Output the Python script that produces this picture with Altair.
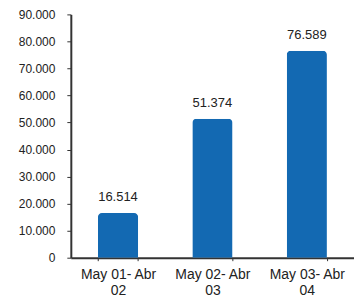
import altair as alt
import pandas as pd

periods = ["May 01- Abr 02", "May 02- Abr 03", "May 03- Abr 04"]
values = [16514, 51374, 76589]
labels = [f"{v:,}".replace(",", ".") for v in values]

df = pd.DataFrame({"period": periods, "value": values, "label": labels})

base = alt.Chart(df).encode(
    x=alt.X("period:N", sort=periods, title=None,
            scale=alt.Scale(paddingInner=0.574, paddingOuter=0.287),
            axis=alt.Axis(labelAngle=0, labelExpr="[slice(datum.label,0,11), slice(datum.label,12)]",
                          labelFontSize=14, labelColor="#222", labelFont="Liberation Sans",
                          labelLineHeight=16, labelPadding=7,
                          domainColor="#333", domainWidth=2, tickColor="#333",
                          tickSize=3, tickBand="extent", grid=False)),
    y=alt.Y("value:Q", title=None,
            scale=alt.Scale(domain=[0, 90000]),
            axis=alt.Axis(values=list(range(0, 90001, 10000)),
                          labelExpr="datum.value == 0 ? '0' : format(datum.value/1000, 'd') + '.000'",
                          labelFontSize=12, labelColor="#222", labelFont="Liberation Sans",
                          labelPadding=12, tickSize=4, tickColor="#333",
                          domainColor="#333", domainWidth=2, grid=False)),
)

bars = base.mark_bar(color="#1369b2", cornerRadiusTopLeft=4, cornerRadiusTopRight=4)
text = base.mark_text(baseline="bottom", dy=-9, fontSize=13, font="Liberation Sans", color="#222").encode(
    text="label:N")

chart = (bars + text).properties(
    width=284, height=244,
    padding={"left": 10, "top": 0, "right": 0, "bottom": 0},
).configure_view(stroke=None)

chart.save("out.html", embed_options={"renderer": "svg", "actions": False})
